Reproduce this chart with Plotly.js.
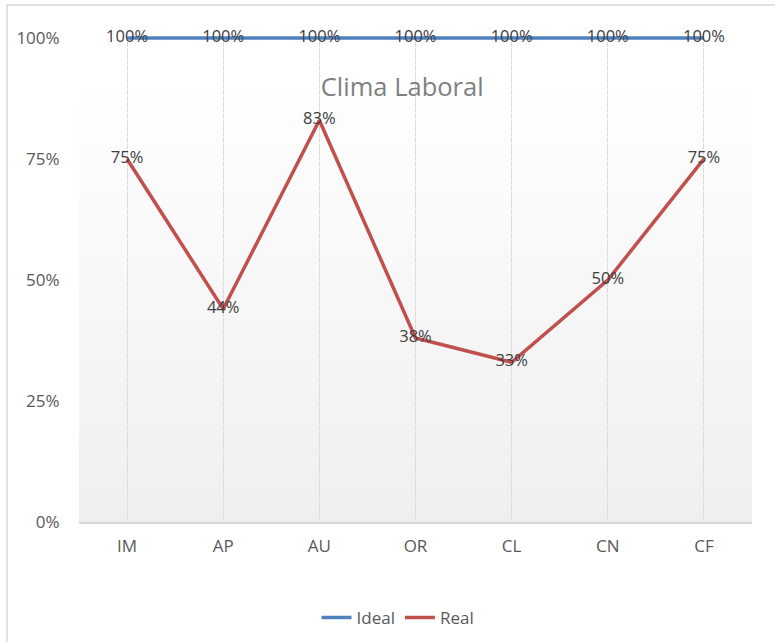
<!DOCTYPE html>
<html>
<head>
<meta charset="utf-8">
<script src="https://cdn.plot.ly/plotly-3.0.1.min.js"></script>
<style>
  html, body { margin: 0; padding: 0; background: #ffffff; }
  #chart { width: 775px; height: 642px; }
</style>
</head>
<body>
<div id="chart"></div>
<script>
// Clima Laboral: ideal vs. real score per dimension
const categories = ['IM', 'AP', 'AU', 'OR', 'CL', 'CN', 'CF'];
const idealValues = [1, 1, 1, 1, 1, 1, 1];
const realValues = [0.75, 0.44, 0.83, 0.38, 0.33, 0.50, 0.75];
const yTickValues = [0, 0.25, 0.5, 0.75, 1];
const yTickLabels = ['0%', '25%', '50%', '75%', '100%'];

const FONT = '"Open Sans", "Noto Sans", sans-serif';

// Plot area geometry (pixels)
const PLOT_TOP = 36, PLOT_BOTTOM = 522, PLOT_LEFT = 79, PLOT_RIGHT = 752;
const PLOT_H = PLOT_BOTTOM - PLOT_TOP, PLOT_W = PLOT_RIGHT - PLOT_LEFT;
const Y_MAX = 1.004; // small headroom so the 100% line is not clipped
const paperY = (px) => (PLOT_BOTTOM - px) / PLOT_H;
const paperX = (px) => (px - PLOT_LEFT) / PLOT_W;

// Soft vertical gradient used behind the plot area
const gradientSvg =
  '<svg xmlns="http://www.w3.org/2000/svg" width="100" height="100" viewBox="0 0 100 100" preserveAspectRatio="none">' +
  '<defs><linearGradient id="g" x1="0" y1="0" x2="0" y2="1">' +
  '<stop offset="0" stop-color="#fefefe"/><stop offset="1" stop-color="#efefef"/>' +
  '</linearGradient></defs><rect width="100" height="100" fill="url(#g)"/></svg>';
const gradientUri = 'data:image/svg+xml;charset=utf-8,' + encodeURIComponent(gradientSvg);

function seriesTrace(name, values, color) {
  return {
    type: 'scatter',
    mode: 'lines+text',
    name: name,
    x: categories,
    y: values,
    line: { color: color, width: 3.5 },
    texttemplate: '%{y:.0%}',
    textposition: 'middle center',
    textfont: { family: FONT, size: 16.5, color: '#404040' },
    cliponaxis: false,
    hoverinfo: 'skip'
  };
}

const traces = [
  seriesTrace('Ideal', idealValues, '#4f81bd'),
  seriesTrace('Real', realValues, '#c0504d')
];

const layout = {
  width: 775,
  height: 642,
  margin: { l: PLOT_LEFT, r: 775 - PLOT_RIGHT, t: PLOT_TOP, b: 642 - PLOT_BOTTOM, autoexpand: false },
  paper_bgcolor: '#ffffff',
  plot_bgcolor: 'rgba(0,0,0,0)',
  font: { family: FONT, size: 17, color: '#595959' },
  title: {
    text: 'Clima Laboral',
    font: { family: FONT, size: 25.5, color: '#7f7f7f' },
    x: 0.519,
    xref: 'container',
    xanchor: 'center',
    y: 1 - 87 / 642,
    yref: 'container',
    yanchor: 'middle'
  },
  xaxis: {
    type: 'category',
    range: [-0.5, categories.length - 0.5],
    showgrid: true,
    gridcolor: '#dadada',
    gridwidth: 1,
    griddash: '5px,1px',
    showline: true,
    linecolor: '#d9d9d9',
    linewidth: 1.5,
    ticks: 'outside',
    ticklen: 8,
    tickcolor: 'rgba(0,0,0,0)',
    tickfont: { family: FONT, size: 17, color: '#595959' },
    zeroline: false,
    fixedrange: true
  },
  yaxis: {
    range: [0, Y_MAX],
    tickvals: yTickValues,
    ticktext: yTickLabels,
    showgrid: false,
    showline: false,
    zeroline: false,
    ticks: 'outside',
    ticklen: 15,
    tickcolor: 'rgba(0,0,0,0)',
    tickfont: { family: FONT, size: 17, color: '#595959' },
    fixedrange: true
  },
  showlegend: true,
  legend: {
    orientation: 'h',
    x: paperX(398),
    xanchor: 'center',
    y: paperY(618),
    yanchor: 'middle',
    font: { family: FONT, size: 17, color: '#595959' },
    bgcolor: 'rgba(0,0,0,0)'
  },
  images: [{
    source: gradientUri,
    xref: 'paper',
    yref: 'paper',
    x: 0,
    y: paperY(92),
    sizex: 1,
    sizey: paperY(92),
    sizing: 'stretch',
    xanchor: 'left',
    yanchor: 'top',
    layer: 'below'
  }],
  shapes: [{
    type: 'rect',
    xref: 'paper',
    yref: 'paper',
    x0: paperX(7),
    x1: 1.2,
    y0: -0.4,
    y1: paperY(5),
    line: { color: '#d9d9d9', width: 1.5 },
    fillcolor: 'rgba(0,0,0,0)',
    layer: 'below'
  }]
};

Plotly.newPlot('chart', traces, layout, { displayModeBar: false, staticPlot: true });
</script>
</body>
</html>
